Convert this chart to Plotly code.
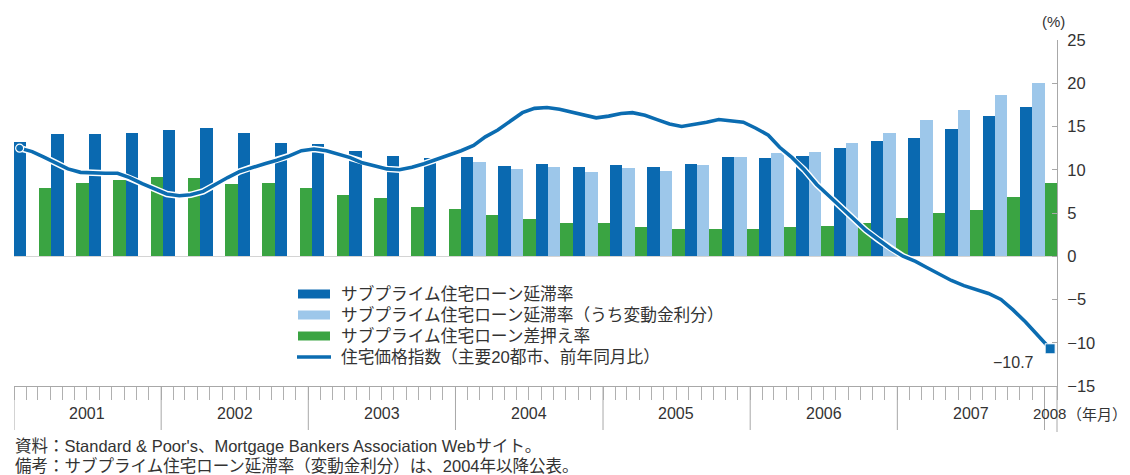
import plotly.graph_objects as go

# ---------------- data ----------------
quarters = [f"{y}Q{q}" for y in range(2001, 2008) for q in range(1, 5)]

delinquency = [13.2, 14.1, 14.1, 14.2, 14.6, 14.8, 14.3, 13.1,
               13.0, 12.2, 11.6, 11.4, 11.5, 10.4, 10.7, 10.3,
               10.5, 10.3, 10.7, 11.5, 11.4, 11.6, 12.5, 13.3,
               13.7, 14.7, 16.2, 17.2]
arm_delinquency = [None] * 12 + [10.9, 10.1, 10.3, 9.7, 10.2, 9.9, 10.5, 11.5,
                                 11.9, 12.1, 13.1, 14.3, 15.7, 16.9, 18.7, 20.0]
foreclosure = [7.9, 8.5, 8.8, 9.2, 9.0, 8.4, 8.5, 7.9,
               7.1, 6.7, 5.7, 5.5, 4.8, 4.3, 3.8, 3.8,
               3.4, 3.2, 3.2, 3.2, 3.4, 3.5, 3.8, 4.4,
               5.0, 5.4, 6.9, 8.5]

months = [f"{2001 + i // 12}-{i % 12 + 1:02d}-15" for i in range(85)]
house_price = [12.5, 12.1, 11.5, 10.8, 10.1, 9.7, 9.6, 9.6, 9.6, 9.1, 8.4, 7.8,
               7.2, 7.0, 7.1, 7.5, 8.3, 9.1, 9.8, 10.3, 10.7, 11.1, 11.6, 12.2,
               12.4, 12.2, 11.8, 11.4, 10.8, 10.4, 10.1, 10.0, 10.3, 10.7, 11.2, 11.7,
               12.2, 12.8, 13.8, 14.6, 15.6, 16.6, 17.1, 17.2, 17.0, 16.7, 16.3, 16.0,
               16.2, 16.5, 16.6, 16.3, 15.8, 15.3, 15.0, 15.2, 15.5, 15.8, 15.7, 15.5,
               14.8, 14.0, 12.6, 11.4, 10.0, 8.3, 7.0, 5.6, 4.3, 3.0, 1.9, 0.9,
               0.0, -0.6, -1.3, -2.1, -2.8, -3.4, -3.8, -4.3, -5.0, -6.2, -7.6, -9.1,
               -10.7]

years = ["2001", "2002", "2003", "2004", "2005", "2006", "2007", "2008"]
y_ticks = [-15, -10, -5, 0, 5, 10, 15, 20, 25]
y_ticktext = [("−" + str(-v)) if v < 0 else str(v) for v in y_ticks]

names = ["サブプライム住宅ローン延滞率",
         "サブプライム住宅ローン延滞率（うち変動金利分）",
         "サブプライム住宅ローン差押え率",
         "住宅価格指数（主要20都市、前年同月比）"]
c_dark = "#0a69b0"
c_light = "#9dc7ea"
c_green = "#3aa442"
c_line = "#0b6cb1"
colors = [c_dark, c_light, c_green, c_line]

notes = ["資料：Standard & Poor's、Mortgage Bankers Association Webサイト。",
         "備考：サブプライム住宅ローン延滞率（変動金利分）は、2004年以降公表。"]

FONT = "Liberation Sans, Noto Sans CJK JP, sans-serif"
CJK = "Noto Sans CJK JP, sans-serif"
TXT = "#333333"

# ---------------- layout geometry ----------------
# the page adds an 8px body margin; positions below are given in page pixels
OFF = 8
W, H = 1130 - OFF, 475 - OFF
PLOT_L, PLOT_R, PLOT_T, PLOT_B = 14, 1057, 40, 386
L = PLOT_L - OFF
R = W - (PLOT_R - OFF)
T = PLOT_T - OFF
B = H - (PLOT_B - OFF)
PW, PH = W - L - R, H - T - B


def xp(px):
    return (px - PLOT_L) / PW


def yp(py):
    return (PLOT_B - py) / PH


fig = go.Figure()

for vals, nm, col in zip([delinquency, arm_delinquency, foreclosure], names[:3], colors[:3]):
    fig.add_trace(go.Bar(x=quarters, y=vals, name=nm, marker=dict(color=col, line=dict(width=0)),
                         xaxis="x", yaxis="y", showlegend=False))

# line with white halo
fig.add_trace(go.Scatter(x=months, y=house_price, mode="lines", xaxis="x2", yaxis="y",
                         line=dict(color="white", width=6.5), showlegend=False, hoverinfo="skip"))
fig.add_trace(go.Scatter(x=months, y=house_price, mode="lines", xaxis="x2", yaxis="y",
                         name=names[3], line=dict(color=c_line, width=3.6), showlegend=False))
fig.add_trace(go.Scatter(x=[months[0]], y=[house_price[0]], mode="markers", xaxis="x2", yaxis="y",
                         marker=dict(symbol="circle", size=8, color=c_line, line=dict(color="white", width=1.2)),
                         showlegend=False))
fig.add_trace(go.Scatter(x=[months[-1]], y=[house_price[-1]], mode="markers", xaxis="x2", yaxis="y",
                         marker=dict(symbol="square", size=10, color=c_line, line=dict(color="white", width=1)),
                         showlegend=False))

shapes = []
for y in years:
    shapes.append(dict(type="line", xref="x2", yref="paper", x0=f"{y}-01-01", x1=f"{y}-01-01",
                       y0=0, y1=yp(430), line=dict(color="#a8a8a8", width=1)))
shapes.append(dict(type="line", xref="paper", yref="paper", x0=1, x1=1, y0=0, y1=yp(432),
                   line=dict(color="#a8a8a8", width=1)))

annotations = []
for i, y in enumerate(years):
    if i < 7:
        annotations.append(dict(xref="x2", yref="paper", x=f"{y}-07-02", y=yp(413), text=y,
                                showarrow=False, xanchor="center", yanchor="middle",
                                font=dict(size=16, color=TXT, family=FONT)))
    else:
        annotations.append(dict(xref="paper", yref="paper", x=xp(1049), y=yp(413), text=y,
                                showarrow=False, xanchor="center", yanchor="middle",
                                font=dict(size=15, color=TXT, family=FONT)))
annotations.append(dict(xref="paper", yref="paper", x=xp(1097), y=yp(413), text="（年月）", showarrow=False,
                        xanchor="center", yanchor="middle", font=dict(size=15, color=TXT, family=CJK)))
annotations.append(dict(xref="paper", yref="paper", x=xp(1053), y=yp(22), text="(%)", showarrow=False,
                        xanchor="center", yanchor="middle", font=dict(size=15, color=TXT, family=FONT)))
annotations.append(dict(xref="x2", yref="y", x=months[-1], y=house_price[-1],
                        text="−" + str(-house_price[-1]), showarrow=False,
                        xanchor="right", yanchor="middle", xshift=-14, yshift=-14,
                        font=dict(size=16, color=TXT, family=FONT)))

# custom legend
rows = [294, 315, 336, 357]
for k in range(4):
    if k < 3:
        shapes.append(dict(type="rect", xref="paper", yref="paper", x0=xp(298), x1=xp(330),
                           y0=yp(rows[k] + 4.5), y1=yp(rows[k] - 4.5),
                           fillcolor=colors[k], line=dict(width=0)))
    else:
        shapes.append(dict(type="line", xref="paper", yref="paper", x0=xp(297), x1=xp(331),
                           y0=yp(rows[k]), y1=yp(rows[k]), line=dict(color=colors[k], width=3.5)))
    annotations.append(dict(xref="paper", yref="paper", x=xp(339), y=yp(rows[k]), text=names[k],
                            showarrow=False, xanchor="left", yanchor="middle",
                            font=dict(size=16.7, color=TXT, family=FONT)))

for j, t in enumerate(notes):
    annotations.append(dict(xref="paper", yref="paper", x=xp(13), y=yp(446 + 20 * j), text=t,
                            showarrow=False, xanchor="left", yanchor="middle",
                            font=dict(size=16.5, color=TXT, family=FONT)))

fig.update_layout(
    width=W, height=H, autosize=False,
    margin=dict(l=L, r=R, t=T, b=B, pad=0),
    paper_bgcolor="white", plot_bgcolor="white",
    barmode="group", bargap=0, bargroupgap=0,
    font=dict(family=FONT, color=TXT),
    xaxis=dict(type="category", range=[-0.5, len(quarters) - 0.5], visible=False,
               showgrid=False, zeroline=False),
    xaxis2=dict(type="date", overlaying="x", anchor="y", side="bottom",
                range=["2001-01-01", "2008-02-01"], showgrid=False, zeroline=False,
                showline=True, linecolor="#a8a8a8", linewidth=1,
                ticks="outside", ticklen=13, tickcolor="#b0b0b0", tickwidth=1,
                tick0="2001-01-01", dtick="M1", showticklabels=False),
    yaxis=dict(side="right", range=[-15, 25], tickvals=y_ticks, ticktext=y_ticktext,
               showgrid=False, zeroline=True, zerolinecolor="#d4d4d4", zerolinewidth=1,
               showline=True, linecolor="#a8a8a8", linewidth=1,
               ticks="inside", ticklen=5, tickcolor="#a8a8a8",
               ticklabelstandoff=6,
               tickfont=dict(size=16.5, color=TXT, family=FONT)),
    shapes=shapes, annotations=annotations,
)

fig.write_html("out.html")
